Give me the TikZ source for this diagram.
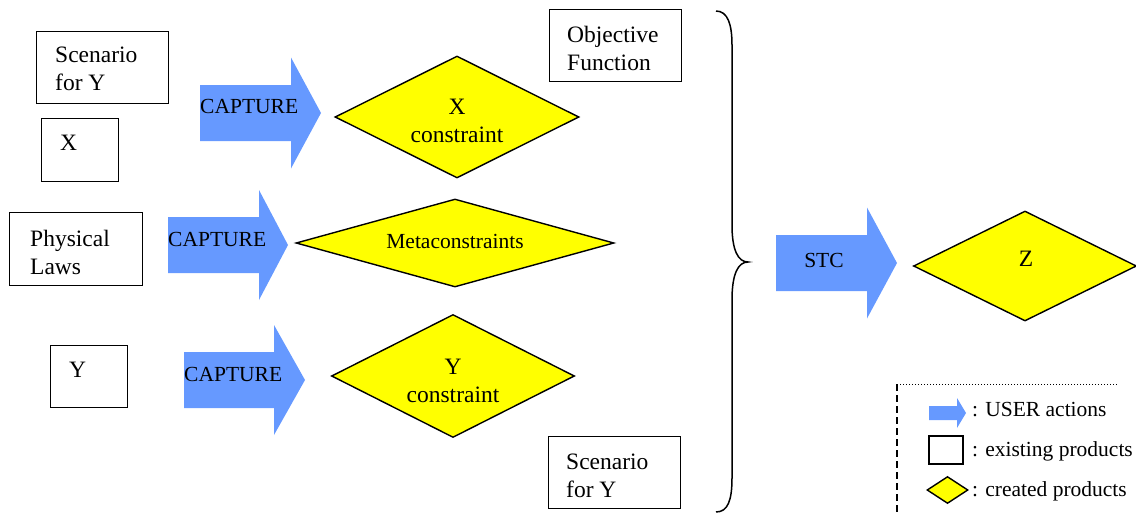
\documentclass[tikz,border=0pt]{standalone}
\usepackage{fontspec}
\setmainfont{Liberation Serif}
\usetikzlibrary{shapes.geometric}
\definecolor{ablue}{RGB}{102,153,255}
\definecolor{ayellow}{RGB}{255,255,0}
\tikzset{
  prod/.style={draw, line width=1.4pt, rectangle, anchor=north west, inner sep=0pt},
  prodtext/.style={anchor=west, inner sep=0pt, align=left, font=\fontsize{23.5}{28}\selectfont},
  cprod/.style={draw, line width=1.4pt, diamond, fill=ayellow, inner sep=0pt},
  cprodtext/.style={inner sep=0pt, align=center, font=\fontsize{23.5}{28}\selectfont},
  act/.style={fill=ablue},
  acttext/.style={inner sep=0pt, font=\fontsize{21.5}{25}\selectfont},
  legtext/.style={anchor=west, inner sep=0pt, font=\fontsize{21.5}{25}\selectfont},
}
% #1 body left, #2 head start, #3 tip, #4 centre y, #5 body half height, #6 head half height
\newcommand{\bigarrowshape}[6]{%
  \fill[act] (#1,#4-#5) -- (#2,#4-#5) -- (#2,#4-#6) -- (#3,#4) -- (#2,#4+#6) -- (#2,#4+#5) -- (#1,#4+#5) -- cycle;}
\begin{document}
\begin{tikzpicture}[x=1pt,y=-1pt]
\useasboundingbox (0,0) rectangle (1136,525);

% existing products
\node[prod, minimum width=132pt, minimum height=72pt] (scen1) at (36,31) {};
\node[prodtext] (scen1t) at (55,69) {Scenario\\for Y};
\node[prod, minimum width=77pt, minimum height=63pt] (xbox) at (41,118) {};
\node[prodtext] (xboxt) at (60,143) {X};
\node[prod, minimum width=133pt, minimum height=73pt] (phys) at (9,212) {};
\node[prodtext] (physt) at (30,252) {Physical\\Laws};
\node[prod, minimum width=77pt, minimum height=62pt] (ybox) at (50,345) {};
\node[prodtext] (yboxt) at (69,370) {Y};
\node[prod, minimum width=132pt, minimum height=72pt] (obj) at (549,9) {};
\node[prodtext] (objt) at (567,48.5) {Objective\\Function};
\node[prod, minimum width=132pt, minimum height=72pt] (scen2) at (548,436) {};
\node[prodtext] (scen2t) at (566,476) {Scenario\\for Y};

% user actions
\bigarrowshape{200}{291}{321}{113}{28}{55.5}
\node[acttext, anchor=west] (cap1) at (200,106) {CAPTURE};
\bigarrowshape{168}{259}{288}{245}{28}{55}
\node[acttext, anchor=west] (cap2) at (168,239) {CAPTURE};
\bigarrowshape{184}{274}{305}{380}{28}{55}
\node[acttext, anchor=west] (cap3) at (184,374) {CAPTURE};
\bigarrowshape{776}{867}{897}{263}{28}{55.5}
\node[acttext] (stc) at (824,260) {STC};

% created products
\node[cprod, minimum width=244pt, minimum height=122pt, shape aspect=2] (xc) at (457,117) {};
\node[cprodtext] (xct) at (457,121) {X\\constraint};
\node[cprod, minimum width=318pt, minimum height=88pt, shape aspect=3] (meta) at (455,243) {};
\node[cprodtext, font=\fontsize{21.5}{25}\selectfont] (metat) at (455,241.5) {Metaconstraints};
\node[cprod, minimum width=243pt, minimum height=123pt, shape aspect=2] (yc) at (453,376) {};
\node[cprodtext] (yct) at (453,380.5) {Y\\constraint};
\node[cprod, minimum width=223pt, minimum height=110pt, shape aspect=2] (z) at (1025,266) {};
\node[cprodtext] (zt) at (1026,259) {Z};

% brace
\draw[line width=1.5pt] (716,11) .. controls (728,11) and (732,25) .. (732,45) -- (732,225)
  .. controls (732,250) and (738,262) .. (748,262)
  .. controls (738,262) and (732,274) .. (732,300) -- (732,478)
  .. controls (732,500) and (728,512) .. (716,512);

% legend
\coordinate (lgtl) at (897,384);
\coordinate (lgtr) at (1118,384);
\coordinate (lgbl) at (897,515);
\draw[line width=1pt, dash pattern=on 1pt off 2pt] (lgtl) -- (lgtr);
\draw[line width=1.2pt, dash pattern=on 7pt off 4pt] (lgtl) -- (lgbl);
\bigarrowshape{929}{957}{966}{413}{7}{15}
\node[legtext] (l1) at (972,410) {: USER actions};
\node[draw, line width=1.4pt, rectangle, minimum width=34pt, minimum height=28pt, inner sep=0pt] (lbox) at (946,450) {};
\node[legtext] (l2) at (972,451) {: existing products};
\node[draw, line width=1.4pt, diamond, fill=ayellow, minimum width=41pt, minimum height=27pt, inner sep=0pt] (ldia) at (947.5,490) {};
\node[legtext] (l3) at (972,491) {: created products};
\end{tikzpicture}
\end{document}
